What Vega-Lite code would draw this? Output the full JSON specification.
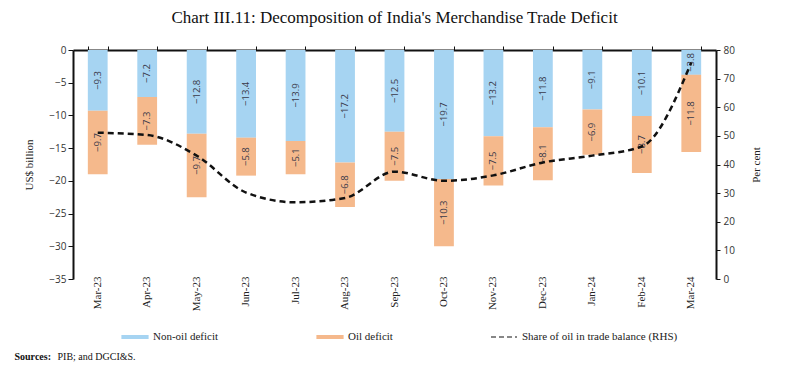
{
  "$schema": "https://vega.github.io/schema/vega-lite/v6.json",
  "width": 643,
  "height": 229,
  "autosize": {"type": "none"},
  "padding": {"left": 73, "top": 50, "right": 69, "bottom": 104},
  "background": "white",
  "title": {
    "text": "Chart III.11: Decomposition of India's Merchandise Trade Deficit",
    "font": "Liberation Serif",
    "fontSize": 17,
    "fontWeight": "normal",
    "color": "#111111",
    "anchor": "middle",
    "frame": "group",
    "offset": 18
  },
  "config": {
    "view": {"stroke": null},
    "axis": {
      "domainColor": "#111111",
      "domainWidth": 2,
      "tickColor": "#111111",
      "grid": false,
      "labelOverlap": false,
      "labelColor": "#333333",
      "titleColor": "#222222",
      "titleFont": "Liberation Serif",
      "titleFontWeight": "normal",
      "titleFontSize": 11
    }
  },
  "datasets": {
    "bars": [
      {"month": "Mar-23", "type": "Non-oil deficit", "value": -9.3},
      {"month": "Apr-23", "type": "Non-oil deficit", "value": -7.2},
      {"month": "May-23", "type": "Non-oil deficit", "value": -12.8},
      {"month": "Jun-23", "type": "Non-oil deficit", "value": -13.4},
      {"month": "Jul-23", "type": "Non-oil deficit", "value": -13.9},
      {"month": "Aug-23", "type": "Non-oil deficit", "value": -17.2},
      {"month": "Sep-23", "type": "Non-oil deficit", "value": -12.5},
      {"month": "Oct-23", "type": "Non-oil deficit", "value": -19.7},
      {"month": "Nov-23", "type": "Non-oil deficit", "value": -13.2},
      {"month": "Dec-23", "type": "Non-oil deficit", "value": -11.8},
      {"month": "Jan-24", "type": "Non-oil deficit", "value": -9.1},
      {"month": "Feb-24", "type": "Non-oil deficit", "value": -10.1},
      {"month": "Mar-24", "type": "Non-oil deficit", "value": -3.8},
      {"month": "Mar-23", "type": "Oil deficit", "value": -9.7},
      {"month": "Apr-23", "type": "Oil deficit", "value": -7.3},
      {"month": "May-23", "type": "Oil deficit", "value": -9.7},
      {"month": "Jun-23", "type": "Oil deficit", "value": -5.8},
      {"month": "Jul-23", "type": "Oil deficit", "value": -5.1},
      {"month": "Aug-23", "type": "Oil deficit", "value": -6.8},
      {"month": "Sep-23", "type": "Oil deficit", "value": -7.5},
      {"month": "Oct-23", "type": "Oil deficit", "value": -10.3},
      {"month": "Nov-23", "type": "Oil deficit", "value": -7.5},
      {"month": "Dec-23", "type": "Oil deficit", "value": -8.1},
      {"month": "Jan-24", "type": "Oil deficit", "value": -6.9},
      {"month": "Feb-24", "type": "Oil deficit", "value": -8.7},
      {"month": "Mar-24", "type": "Oil deficit", "value": -11.8}
    ],
    "share": [
      {"month": "Mar-23", "share": 51.1},
      {"month": "Apr-23", "share": 50.3},
      {"month": "May-23", "share": 43.1},
      {"month": "Jun-23", "share": 30.2},
      {"month": "Jul-23", "share": 26.8},
      {"month": "Aug-23", "share": 28.3},
      {"month": "Sep-23", "share": 37.5},
      {"month": "Oct-23", "share": 34.3},
      {"month": "Nov-23", "share": 36.2},
      {"month": "Dec-23", "share": 40.7},
      {"month": "Jan-24", "share": 43.1},
      {"month": "Feb-24", "share": 46.3},
      {"month": "Mar-24", "share": 75.6}
    ]
  },
  "layer": [
    {
      "data": {"name": "bars"},
      "layer": [
        {
          "mark": {"type": "bar"},
          "encoding": {
            "x": {
              "field": "month",
              "type": "ordinal",
              "sort": null,
              "scale": {"paddingInner": 0.6, "paddingOuter": 0.3},
              "axis": {
                "orient": "top",
                "labels": false,
                "tickBand": "extent",
                "tickSize": 4,
                "tickWidth": 1,
                "title": "Sources:",
                "titleFont": "Liberation Serif",
                "titleFontWeight": "bold",
                "titleFontSize": 10,
                "titleColor": "#111111",
                "titleAlign": "left",
                "titleBaseline": "middle",
                "titleAngle": 0,
                "titleX": -59,
                "titleY": 306
              }
            },
            "y": {
              "field": "value",
              "type": "quantitative",
              "stack": "zero",
              "scale": {"domain": [-35, 0], "nice": false},
              "axis": {
                "title": "US$ billion",
                "values": [-35, -30, -25, -20, -15, -10, -5, 0],
                "labelOverlap": false,
                "labelFlush": false,
                "tickSize": 5,
                "labelFont": "Open Sans",
                "labelFontSize": 10,
                "labelPadding": 2,
                "titlePadding": 14
              }
            },
            "color": {
              "field": "type",
              "type": "nominal",
              "scale": {
                "domain": ["Non-oil deficit", "Oil deficit", "Share of oil in trade balance (RHS)"],
                "range": ["#A6D4F2", "#F5B98C", "#111111"]
              },
              "legend": {
                "orient": "none",
                "legendX": 48,
                "legendY": 273,
                "direction": "horizontal",
                "title": null,
                "columnPadding": 95,
                "labelFont": "Liberation Serif",
                "labelFontSize": 11,
                "labelColor": "#222222",
                "labelOffset": 4,
                "symbolSize": 676,
                "encode": {
                  "symbols": {
                    "update": {
                      "shape": {"signal": "datum.value === 'Share of oil in trade balance (RHS)' ? 'stroke' : 'M-1,-0.1H1V0.1H-1Z'"},
                      "fill": {"signal": "datum.value === 'Share of oil in trade balance (RHS)' ? 'transparent' : (datum.value === 'Oil deficit' ? '#F5B98C' : '#A6D4F2')"},
                      "stroke": {"signal": "datum.value === 'Share of oil in trade balance (RHS)' ? '#222222' : 'transparent'"},
                      "strokeWidth": {"value": 1.2},
                      "strokeDash": {"signal": "datum.value === 'Share of oil in trade balance (RHS)' ? [5, 3] : []"}
                    }
                  }
                }
              }
            },
            "order": {"field": "type", "sort": "ascending"}
          }
        },
        {
          "transform": [
            {"stack": "value", "groupby": ["month"], "sort": [{"field": "type", "order": "ascending"}], "as": ["v0", "v1"]},
            {"calculate": "(datum.v0 + datum.v1) / 2", "as": "mid"}
          ],
          "mark": {"type": "text", "angle": 270, "font": "Open Sans", "fontSize": 9.5, "color": "#3a3a4a", "baseline": "middle", "align": "center"},
          "encoding": {
            "x": {"field": "month", "type": "ordinal", "sort": null},
            "y": {
              "field": "mid",
              "type": "quantitative",
              "axis": {
                "title": "US$ billion",
                "values": [-35, -30, -25, -20, -15, -10, -5, 0],
                "labelOverlap": false,
                "labelFlush": false,
                "tickSize": 5,
                "labelFont": "Open Sans",
                "labelFontSize": 10,
                "labelPadding": 2,
                "titlePadding": 14
              }
            },
            "text": {"field": "value", "type": "quantitative", "format": ".1f"}
          }
        }
      ]
    },
    {
      "data": {"name": "share"},
      "mark": {"type": "line", "interpolate": "monotone", "strokeDash": [6, 4], "strokeWidth": 2.5},
      "encoding": {
        "x": {
          "field": "month",
          "type": "ordinal",
          "sort": null,
          "axis": {
            "orient": "bottom",
            "domain": false,
            "ticks": false,
            "labelAngle": 270,
            "labelPadding": -3,
            "labelFont": "Liberation Serif",
            "labelFontSize": 11,
            "labelColor": "#222222",
            "title": "PIB; and DGCI&S.",
            "titleFont": "Liberation Serif",
            "titleFontSize": 10,
            "titleColor": "#111111",
            "titleAlign": "left",
            "titleBaseline": "middle",
            "titleX": -16,
            "titleY": 77
          }
        },
        "y": {
          "field": "share",
          "type": "quantitative",
          "scale": {"domain": [0, 80], "nice": false},
          "axis": {
            "orient": "right",
            "title": "Per cent",
            "titleAngle": 270,
            "values": [0, 10, 20, 30, 40, 50, 60, 70, 80],
            "labelFlush": false,
            "tickSize": 4,
            "labelFont": "Open Sans",
            "labelFontSize": 10,
            "labelPadding": 3,
            "titlePadding": 27
          }
        },
        "color": {"datum": "Share of oil in trade balance (RHS)"}
      }
    }
  ],
  "resolve": {"scale": {"y": "independent"}, "axis": {"x": "independent"}}
}
